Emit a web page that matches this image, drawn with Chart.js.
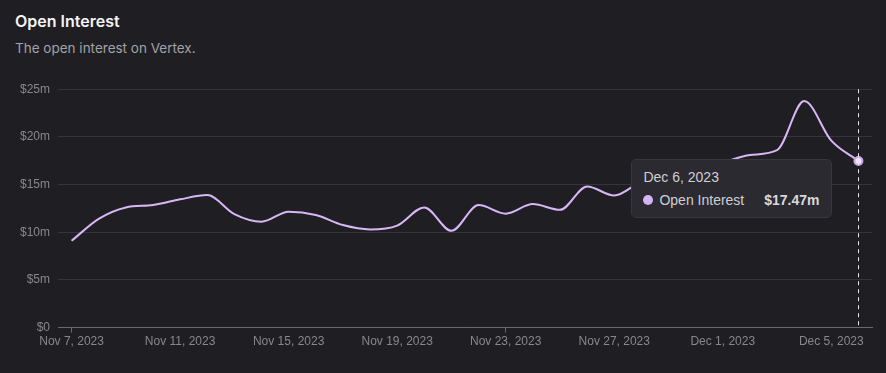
<!DOCTYPE html>
<html>
<head>
<meta charset="utf-8">
<script src="https://cdn.jsdelivr.net/npm/chart.js@4.4.0/dist/chart.umd.min.js"></script>
<style>
  html, body { margin: 0; padding: 0; background: #1f1e23; }
  body { width: 886px; height: 373px; position: relative; overflow: hidden; font-family: "Liberation Sans", Arial, sans-serif; }
  #title { position: absolute; left: 15px; top: 11px; color: #f4f4f6; font-family: Inter, sans-serif; font-weight: 600; font-size: 16px; }
  #subtitle { position: absolute; left: 15px; top: 40px; color: #a3a2a8; font-family: Inter, sans-serif; font-size: 13.5px; }
  #wrap { position: absolute; left: 0; top: 74px; width: 886px; height: 277px; }
  #tip { position: absolute; display: none; background: #2b2a30; border: 1px solid #38373d; border-radius: 5px;
         padding: 9px 11px 9px 11px; color: #cfced4; font-size: 14px; white-space: nowrap; pointer-events: none; }
  #tip .t { margin-bottom: 7px; }
  #tip .row { display: flex; align-items: center; }
  #tip .dot { width: 10px; height: 10px; border-radius: 50%; background: #d3b4f5; margin-right: 6px; }
  #tip .v { font-weight: bold; margin-left: 20px; color: #d9d8de; }
</style>
</head>
<body>
<div id="title">Open Interest</div>
<div id="subtitle">The open interest on Vertex.</div>
<div id="wrap"><canvas id="oiChart"></canvas></div>
<div id="tip"></div>
<script>
// dates (daily) and open interest in $m
const dates = [
  "Nov 7, 2023", "Nov 8, 2023", "Nov 9, 2023", "Nov 10, 2023", "Nov 11, 2023", "Nov 12, 2023",
  "Nov 13, 2023", "Nov 14, 2023", "Nov 15, 2023", "Nov 16, 2023", "Nov 17, 2023", "Nov 18, 2023",
  "Nov 19, 2023", "Nov 20, 2023", "Nov 21, 2023", "Nov 22, 2023", "Nov 23, 2023", "Nov 24, 2023",
  "Nov 25, 2023", "Nov 26, 2023", "Nov 27, 2023", "Nov 28, 2023", "Nov 29, 2023", "Nov 30, 2023",
  "Dec 1, 2023", "Dec 2, 2023", "Dec 3, 2023", "Dec 4, 2023", "Dec 5, 2023", "Dec 6, 2023"
];
const openInterest = [
  9.1, 11.4, 12.6, 12.85, 13.45, 13.9,
  11.9, 11.1, 12.15, 11.8, 10.75, 10.3,
  10.7, 12.6, 10.15, 12.85, 11.95, 12.95,
  12.35, 14.8, 13.85, 15.3, 15.9, 16.6,
  17.3, 18.1, 18.6, 23.75, 19.6, 17.47
];
const yTicks = [0, 5, 10, 15, 20, 25];

const lineColor = "#d7b7f6";
const gridColor = "#35343a";
const tickColor = "#88878d";

function fmt(v) {
  return v === 0 ? "$0" : "$" + (Number.isInteger(v) ? v : v.toFixed(2)) + "m";
}

// dashed line at the hovered point
const crosshair = {
  id: "crosshair",
  afterDatasetsDraw(chart) {
    const act = chart.getActiveElements();
    if (!act.length) return;
    const x = act[0].element.x;
    const ctx = chart.ctx;
    ctx.save();
    ctx.strokeStyle = "#e6e6ea";
    ctx.lineWidth = 1;
    ctx.setLineDash([4, 4]);
    ctx.beginPath();
    ctx.moveTo(Math.round(x) + 0.5, chart.chartArea.top);
    ctx.lineTo(Math.round(x) + 0.5, chart.chartArea.bottom);
    ctx.stroke();
    ctx.restore();
  }
};

function externalTip(context) {
  const tip = document.getElementById("tip");
  const model = context.tooltip;
  if (model.opacity === 0) { tip.style.display = "none"; return; }
  const i = model.dataPoints[0].dataIndex;
  tip.innerHTML = `<div class="t">${dates[i]}</div>
    <div class="row"><span class="dot"></span><span>Open Interest</span><span style="flex:1"></span><span class="v">${fmt(openInterest[i])}</span></div>`;
  tip.style.display = "block";
  const wrap = document.getElementById("wrap");
  const px = model.caretX + wrap.offsetLeft;
  const py = model.caretY + wrap.offsetTop;
  tip.style.left = (px - tip.offsetWidth - 27) + "px";
  tip.style.top = (py - 2) + "px";
}

const ctx = document.getElementById("oiChart").getContext("2d");
const chart = new Chart(ctx, {
  type: "line",
  data: {
    labels: dates,
    datasets: [{
      label: "Open Interest",
      data: openInterest,
      borderColor: lineColor,
      borderWidth: 2,
      cubicInterpolationMode: "monotone",
      pointRadius: 0,
      pointHoverRadius: 4,
      pointHoverBorderWidth: 2,
      pointHoverBackgroundColor: "#f1e8fc",
      pointHoverBorderColor: "#c9a3ef",
      fill: false
    }]
  },
  options: {
    responsive: true,
    maintainAspectRatio: false,
    animation: false,
    layout: { padding: { top: 2, right: 14, left: 0, bottom: 0 } },
    interaction: { mode: "index", intersect: false },
    plugins: {
      legend: { display: false },
      tooltip: { enabled: false, external: externalTip }
    },
    scales: {
      x: {
        type: "category",
        offset: true,
        border: { display: true, color: "#6a696f", width: 1 },
        grid: {
          drawOnChartArea: false,
          drawTicks: true,
          tickLength: 5,
          color: c => (c.index % 4 === 0 ? "#6a696f" : "transparent")
        },
        ticks: {
          autoSkip: false,
          maxRotation: 0,
          color: tickColor,
          font: { family: "Liberation Sans", size: 12 },
          padding: 2,
          callback: (v, i) => (i % 4 === 0 ? dates[i] : null)
        }
      },
      y: {
        min: 0,
        max: 25,
        afterFit: s => { s.width = 58; },
        afterBuildTicks: s => { s.ticks = yTicks.map(v => ({ value: v })); },
        border: { display: false },
        grid: { color: gridColor, drawTicks: false, lineWidth: 1 },
        ticks: {
          color: tickColor,
          font: { family: "Liberation Sans", size: 12 },
          padding: 8,
          callback: v => fmt(v)
        }
      }
    }
  },
  plugins: [crosshair]
});

// show the last day as hovered, like the reference
const last = openInterest.length - 1;
const meta = chart.getDatasetMeta(0);
chart.setActiveElements([{ datasetIndex: 0, index: last }]);
chart.tooltip.setActiveElements([{ datasetIndex: 0, index: last }], { x: meta.data[last].x, y: meta.data[last].y });
chart.update();
</script>
</body>
</html>
